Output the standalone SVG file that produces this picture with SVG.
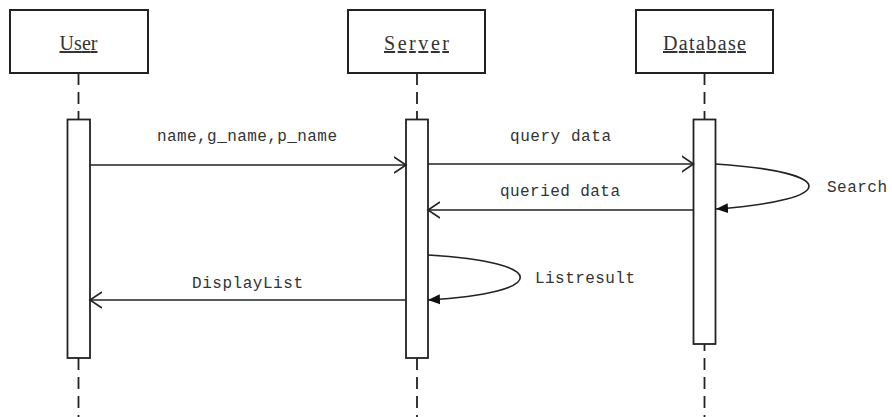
<svg xmlns="http://www.w3.org/2000/svg" width="892" height="417" viewBox="0 0 892 417">
<style>
.box{fill:#fff;stroke:#222;stroke-width:2}
.act{fill:#fff;stroke:#222;stroke-width:1.8}
.life{stroke:#222;stroke-width:1.8;stroke-dasharray:12 7;fill:none}
.title{font-family:"Liberation Serif",serif;font-size:20px;fill:#333;text-decoration:underline;text-anchor:middle}
.lbl{font-family:"Liberation Mono",monospace;font-size:16px;fill:#333}
.msg{stroke:#222;stroke-width:1.6;fill:none}
</style>
<defs>
<marker id="open" markerWidth="14" markerHeight="18" refX="12" refY="9" orient="auto" markerUnits="userSpaceOnUse">
<path d="M0,1 L12,9 L0,17" fill="none" stroke="#222" stroke-width="1.6"/>
</marker>
<marker id="fill" markerWidth="14" markerHeight="12" refX="12" refY="6" orient="auto" markerUnits="userSpaceOnUse">
<path d="M0,1 L12,6 L0,11 Z" fill="#111"/>
</marker>
</defs>
<g id="lifelines">
<line class="life" x1="78.5" y1="73" x2="78.5" y2="417"/>
<line class="life" x1="417" y1="73" x2="417" y2="417"/>
<line class="life" x1="704.5" y1="73" x2="704.5" y2="417"/>
</g>
<g id="user">
<rect class="box" x="10" y="10" width="138" height="63"/>
<text class="title" x="78.5" y="50" textLength="38">User</text>
<rect class="act" x="67.5" y="119.5" width="22.5" height="238.5"/>
</g>
<g id="server">
<rect class="box" x="348" y="10" width="137" height="63"/>
<text class="title" x="416.5" y="50" textLength="65" lengthAdjust="spacing">Server</text>
<rect class="act" x="406" y="119.5" width="22" height="238.5"/>
</g>
<g id="database">
<rect class="box" x="636" y="10" width="137" height="63"/>
<text class="title" x="704.5" y="50" textLength="83" lengthAdjust="spacing">Database</text>
<rect class="act" x="693.5" y="119.5" width="22" height="224.5"/>
</g>
<g id="connectors">
<line class="msg" x1="90" y1="165" x2="406" y2="165" marker-end="url(#open)"/>
<line class="msg" x1="428" y1="164" x2="693.5" y2="164" marker-end="url(#open)"/>
<line class="msg" x1="693.5" y1="210" x2="428" y2="210" marker-end="url(#open)"/>
<line class="msg" x1="406" y1="300" x2="90" y2="300" marker-end="url(#open)"/>
<path class="msg" d="M715.5,164 C840,172 840,200 716,209" marker-end="url(#fill)"/>
<path class="msg" d="M428,255 C551,262 551,293 428,300" marker-end="url(#fill)"/>
</g>
<g id="labels">
<text class="lbl" x="157" y="141" textLength="180" lengthAdjust="spacing">name,g_name,p_name</text>
<text class="lbl" x="510" y="141" textLength="101" lengthAdjust="spacing">query data</text>
<text class="lbl" x="500" y="196" textLength="120" lengthAdjust="spacing">queried data</text>
<text class="lbl" x="827" y="192" textLength="60" lengthAdjust="spacing">Search</text>
<text class="lbl" x="192" y="288" textLength="111" lengthAdjust="spacing">DisplayList</text>
<text class="lbl" x="535" y="283" textLength="100" lengthAdjust="spacing">Listresult</text>
</g>
</svg>
